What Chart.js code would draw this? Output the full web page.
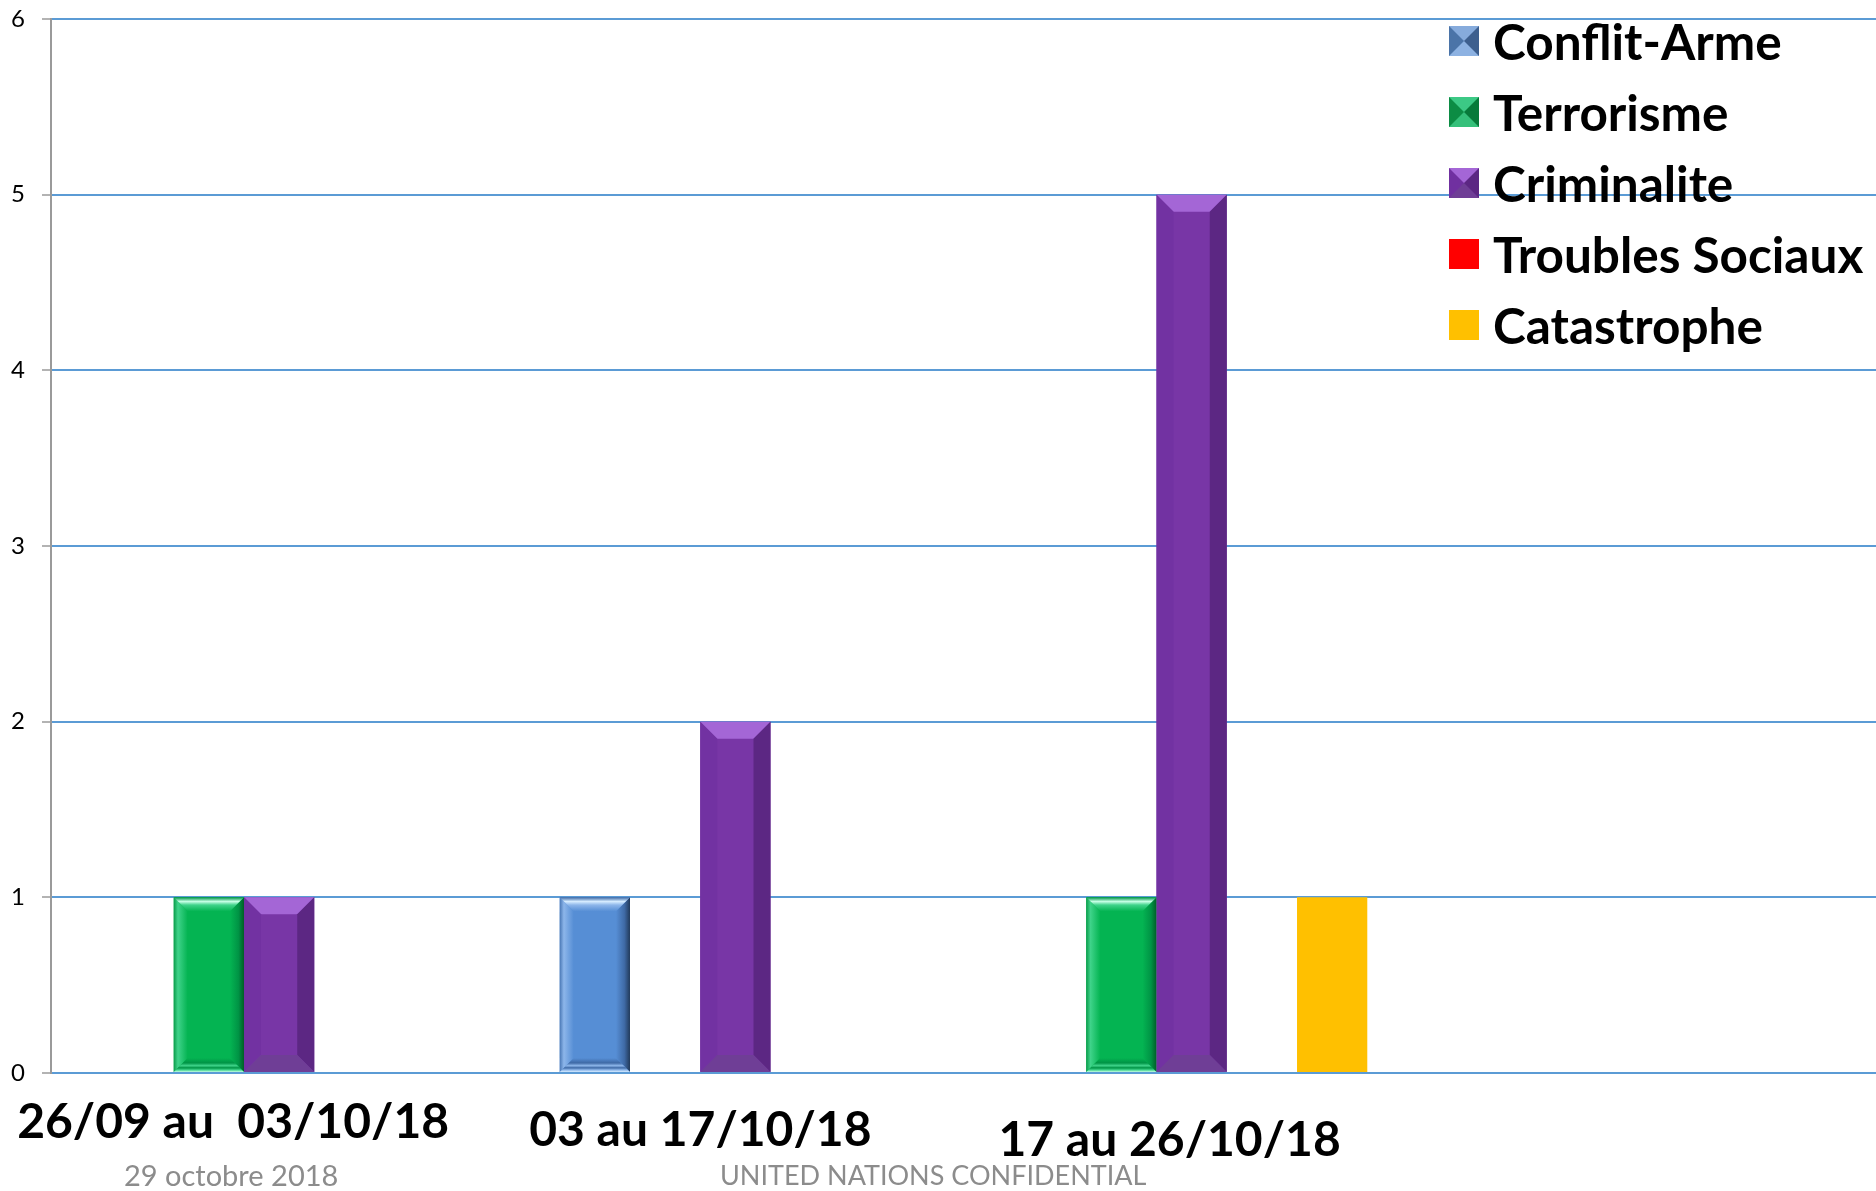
<!DOCTYPE html>
<html>
<head>
<meta charset="utf-8">
<script src="https://cdn.jsdelivr.net/npm/chart.js@4.4.1/dist/chart.umd.min.js"></script>
<style>
  body { margin: 0; background: #fff; }
  #wrap { position: relative; width: 1876px; height: 1191px; }
  #legend { position: absolute; left: 1449px; top: 26px; font-family: Lato, sans-serif; font-weight: bold; font-size: 49.5px; color: #000; }
  .row { position: absolute; left: 0; height: 30px; display: flex; align-items: center; white-space: nowrap; }
  .sw { width: 0; height: 0; border-style: solid; border-width: 15px; margin-right: 14px; }
  .row span { line-height: 30px; }
  .foot { position: absolute; top: 1161px; font-family: Lato, sans-serif; font-size: 28px; line-height: 28px; color: #8c8c8c; white-space: nowrap; }
</style>
</head>
<body>
<div id="wrap">
  <canvas id="incidents" width="1876" height="1191"></canvas>
  <div id="legend"></div>
  <div class="foot" style="left:124px; font-size:29px">29 octobre 2018</div>
  <div class="foot" style="left:720px; font-size:27px">UNITED NATIONS CONFIDENTIAL</div>
</div>
<script>
// data
const categories = ['26/09 au  03/10/18', '03 au 17/10/18', '17 au 26/10/18', ''];
const seriesNames = ['Conflit-Arme', 'Terrorisme', 'Criminalite', 'Troubles Sociaux', 'Catastrophe'];
const conflitArme = [0, 1, 0, 0];
const terrorisme = [1, 0, 1, 0];
const criminalite = [1, 2, 5, 0];
const troublesSociaux = [0, 0, 0, 0];
const catastrophe = [0, 0, 1, 0];
const yMin = 0, yMax = 6, yStep = 1;

const seriesValues = [conflitArme, terrorisme, criminalite, troublesSociaux, catastrophe];
const seriesColors = ['#568ed5', '#04b452', '#7836a6', '#ff0000', '#ffc000'];

// swatch borders: top, right, bottom, left
const swatchBorders = [
  ['#86abdc', '#3d5f8e', '#8db2e2', '#4b74a8'],
  ['#3cc985', '#077a3a', '#35c07a', '#0c8c44'],
  ['#a466d6', '#5c2783', '#6f3e96', '#7030a0'],
  ['#ff0000', '#ff0000', '#ff0000', '#ff0000'],
  ['#ffc000', '#ffc000', '#ffc000', '#ffc000']
];

// html legend
const legendEl = document.getElementById('legend');
seriesNames.forEach((name, i) => {
  const row = document.createElement('div');
  row.className = 'row';
  row.style.top = (i * 71.1) + 'px';
  const sw = document.createElement('div');
  sw.className = 'sw';
  sw.style.borderColor = swatchBorders[i].join(' ');
  const txt = document.createElement('span');
  txt.textContent = name;
  row.appendChild(sw);
  row.appendChild(txt);
  legendEl.appendChild(row);
});

function quad(ctx, pts, fill) {
  ctx.beginPath();
  ctx.moveTo(pts[0][0], pts[0][1]);
  for (let k = 1; k < pts.length; k++) ctx.lineTo(pts[k][0], pts[k][1]);
  ctx.closePath();
  ctx.fillStyle = fill;
  ctx.fill();
}

function grad(ctx, x0, y0, x1, y1, stops) {
  const g = ctx.createLinearGradient(x0, y0, x1, y1);
  stops.forEach(s => g.addColorStop(s[0], s[1]));
  return g;
}

// sharp bevel (purple)
function angleBevel(ctx, l, r, t, b, c) {
  const s = 17;
  quad(ctx, [[l, t], [r, t], [r - s, t + s], [l + s, t + s]], c.top);
  quad(ctx, [[l, t], [l + s, t + s], [l + s, b - s], [l, b]], c.left);
  quad(ctx, [[r, t], [r, b], [r - s, b - s], [r - s, t + s]], c.right);
  quad(ctx, [[l, b], [l + s, b - s], [r - s, b - s], [r, b]], c.bottom);
}

// softer glossy bevel (blue, green)
function softBevel(ctx, l, r, t, b, c) {
  const s = 14;
  quad(ctx, [[l, t], [l + s, t + s], [l + s, b - s], [l, b]],
    grad(ctx, l, 0, l + s, 0, [[0, c.edge], [0.3, c.light], [1, c.face]]));
  quad(ctx, [[r, t], [r, b], [r - s, b - s], [r - s, t + s]],
    grad(ctx, r - s, 0, r, 0, [[0, c.face], [0.6, c.mid], [1, c.dark]]));
  quad(ctx, [[l, t], [r, t], [r - s, t + s], [l + s, t + s]],
    grad(ctx, 0, t, 0, t + s, [[0, c.mid], [0.3, c.hi], [0.55, c.light], [1, c.face]]));
  quad(ctx, [[l, b], [l + s, b - s], [r - s, b - s], [r, b]],
    grad(ctx, 0, b - s, 0, b, [[0, c.face], [0.35, c.mid], [0.55, c.light], [0.7, c.mid], [0.85, c.light], [1, c.hi]]));
}

const bevels = {
  'Conflit-Arme': (ctx, l, r, t, b) => softBevel(ctx, l, r, t, b,
    { face: '#568ed5', light: '#8db6ea', hi: '#d6ecff', mid: '#3f6aa6', dark: '#223a5a', edge: '#4a78b6' }),
  'Terrorisme': (ctx, l, r, t, b) => softBevel(ctx, l, r, t, b,
    { face: '#04b452', light: '#3fd38a', hi: '#c6ffe6', mid: '#009445', dark: '#005f28', edge: '#0a9c4a' }),
  'Criminalite': (ctx, l, r, t, b) => angleBevel(ctx, l, r, t, b,
    { top: '#a466d6', left: '#7232a2', right: '#5c2783', bottom: '#6f3e96' })
};

const bevelPlugin = {
  id: 'bevel',
  afterDatasetsDraw(chart) {
    const ctx = chart.ctx;
    chart.data.datasets.forEach((ds, i) => {
      const fn = bevels[ds.label];
      if (!fn) return;
      chart.getDatasetMeta(i).data.forEach((bar, j) => {
        if (!ds.data[j]) return;
        const p = bar.getProps(['x', 'y', 'base', 'width'], true);
        ctx.save();
        fn(ctx, p.x - p.width / 2, p.x + p.width / 2, p.y, p.base);
        ctx.restore();
      });
    });
  }
};

// category labels sit as loose text boxes under each group
const labelNudgeX = [-46, -35, -22, 0];
const labelDropY = [65, 73, 83, 0];
const xLabelPlugin = {
  id: 'xLabels',
  afterDraw(chart) {
    const ctx = chart.ctx;
    const xs = chart.scales.x;
    ctx.save();
    ctx.font = 'bold 48px Lato';
    ctx.fillStyle = '#000';
    ctx.textAlign = 'center';
    ctx.textBaseline = 'alphabetic';
    categories.forEach((c, i) => {
      if (!c) return;
      ctx.fillText(c, xs.getPixelForValue(i) + labelNudgeX[i], chart.chartArea.bottom + labelDropY[i]);
    });
    ctx.restore();
  }
};

Chart.defaults.font.family = 'Lato';

const ctx = document.getElementById('incidents').getContext('2d');
const incidentChart = new Chart(ctx, {
  type: 'bar',
  data: {
    labels: categories,
    datasets: seriesNames.map((name, i) => ({
      label: name,
      data: seriesValues[i],
      backgroundColor: seriesColors[i],
      borderWidth: 0,
      categoryPercentage: 0.77,
      barPercentage: 1
    }))
  },
  options: {
    responsive: false,
    animation: false,
    layout: { padding: { top: 19, right: 0, bottom: 0, left: 0 } },
    plugins: { legend: { display: false }, tooltip: { enabled: false } },
    scales: {
      x: {
        grid: { display: false },
        border: { display: false },
        ticks: { display: false },
        afterFit: s => { s.height = 118; s.paddingLeft = 0; s.paddingRight = 0; }
      },
      y: {
        min: yMin,
        max: yMax,
        ticks: { stepSize: yStep, padding: 17, color: '#000', font: { size: 24 } },
        grid: { color: '#5b9bd5', lineWidth: 2, tickColor: '#9a9a9a', tickLength: 9, tickWidth: 1.5 },
        border: { color: '#9a9a9a', width: 2 },
        afterFit: s => { s.width = 51; s.paddingTop = 0; s.paddingBottom = 0; }
      }
    }
  },
  plugins: [bevelPlugin, xLabelPlugin]
});
</script>
</body>
</html>
